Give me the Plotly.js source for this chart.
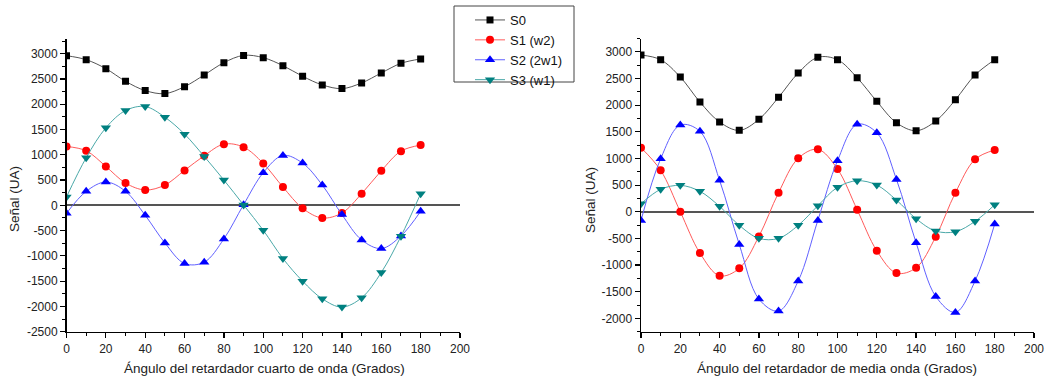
<!DOCTYPE html>
<html>
<head>
<meta charset="utf-8">
<script src="https://cdn.plot.ly/plotly-3.0.1.min.js"></script>
<style>html,body{margin:0;padding:0;background:#fff;}#chart{width:1045px;height:379px;}</style>
</head>
<body>
<div id="chart"></div>
<script>
// Angles (degrees)
const angles = [0,10,20,30,40,50,60,70,80,90,100,110,120,130,140,150,160,170,180];

// Quarter-wave retarder (left panel)
const qS0 = [2960,2881,2704,2453,2270,2210,2348,2579,2822,2966,2921,2763,2553,2382,2309,2421,2618,2809,2895];
const qS1 = [1164,1079,770,441,303,401,691,981,1210,1151,829,362,-59,-250,-151,230,684,1072,1191];
const qS2 = [-158,276,461,276,-197,-743,-1151,-1125,-664,13,645,987,835,401,-184,-684,-855,-605,-118];
const qS3 = [165,941,1533,1875,1954,1743,1408,967,500,7,-493,-1052,-1500,-1849,-2013,-1829,-1328,-612,230];

// Half-wave retarder (right panel)
const hS0 = [2940,2852,2527,2058,1683,1527,1733,2146,2602,2897,2852,2514,2071,1670,1520,1702,2101,2565,2852];
const hS1 = [1201,777,0,-775,-1201,-1062,-462,357,1002,1171,801,38,-731,-1150,-1051,-469,357,983,1158];
const hS2 = [-162,994,1627,1508,589,-612,-1638,-1863,-1300,-162,957,1640,1482,607,-581,-1588,-1888,-1300,-231];
const hS3 = [150,420,495,383,101,-255,-499,-499,-255,113,458,582,501,219,-131,-362,-375,-180,131];

const seriesNames = ['S0','S1 (w2)','S2 (2w1)','S3 (w1)'];

// Tick labels
const xTicks = [0,20,40,60,80,100,120,140,160,180,200];
const yTicksLeft = [-2500,-2000,-1500,-1000,-500,0,500,1000,1500,2000,2500,3000];
const yTicksRight = [-2000,-1500,-1000,-500,0,500,1000,1500,2000,2500,3000];

const xTitleLeft = 'Ángulo del retardador cuarto de onda (Grados)';
const xTitleRight = 'Ángulo del retardador de media onda (Grados)';
const yTitle = 'Señal (UA)';

const styles = [
  {marker:{symbol:'square', size:7, color:'#000000'}, line:{color:'#555555', width:1, shape:'spline'}},
  {marker:{symbol:'circle', size:8, color:'#ff0000'}, line:{color:'#ff5a5a', width:1, shape:'spline'}},
  {marker:{symbol:'triangle-up', size:9, color:'#0000ff'}, line:{color:'#6060ff', width:1, shape:'spline'}},
  {marker:{symbol:'triangle-down', size:9, color:'#008080'}, line:{color:'#4aa8a8', width:1, shape:'spline'}}
];

const leftData = [qS0,qS1,qS2,qS3];
const rightData = [hS0,hS1,hS2,hS3];
const traces = [];
leftData.forEach((ys,i)=>{
  traces.push({x:angles, y:ys, name:seriesNames[i], mode:'lines+markers', xaxis:'x', yaxis:'y',
    marker:styles[i].marker, line:styles[i].line, showlegend:true});
});
rightData.forEach((ys,i)=>{
  traces.push({x:angles, y:ys, name:seriesNames[i], mode:'lines+markers', xaxis:'x2', yaxis:'y2',
    marker:styles[i].marker, line:styles[i].line, showlegend:false});
});

const fontFam = 'Liberation Sans, Arial, sans-serif';
const tickLbl = v => String(v).replace('\u2212','-');

function xAxis(domain, anchor){
  return {domain:domain, anchor:anchor, range:[0,200], showgrid:false, zeroline:false,
    showline:true, linecolor:'#000', linewidth:1.5, ticks:'outside', ticklen:5, tickwidth:1.2, tickcolor:'#000',
    tickvals:xTicks, ticktext:xTicks.map(tickLbl),
    minor:{ticks:'outside', ticklen:3, tickwidth:1, tickcolor:'#000', dtick:10, tick0:0},
    tickfont:{family:fontFam, size:12, color:'#222'}, fixedrange:true};
}
function yAxis(domain, anchor, range, ticks){
  return {domain:domain, anchor:anchor, range:range, showgrid:false,
    zeroline:true, zerolinecolor:'#555', zerolinewidth:2,
    showline:true, linecolor:'#000', linewidth:1.5, ticks:'outside', ticklen:5, tickwidth:1.2, tickcolor:'#000',
    tickvals:ticks, ticktext:ticks.map(tickLbl),
    minor:{ticks:'outside', ticklen:3, tickwidth:1, tickcolor:'#000', dtick:250, tick0:0},
    tickfont:{family:fontFam, size:12, color:'#222'}, fixedrange:true};
}

const yDom = [(379-331.7)/379, (379-38.5)/379];
const layout = {
  width:1045, height:379,
  margin:{l:0,r:0,t:0,b:0},
  paper_bgcolor:'#fff', plot_bgcolor:'#fff',
  font:{family:fontFam, color:'#222'},
  xaxis: xAxis([66.5/1045, 460/1045], 'y'),
  yaxis: yAxis(yDom, 'x', [-2500,3300], yTicksLeft),
  xaxis2: xAxis([641/1045, 1034/1045], 'y2'),
  yaxis2: yAxis(yDom, 'x2', [-2250,3250], yTicksRight),
  showlegend:true,
  legend:{x:470/1045, y:1-5/379, xanchor:'left', yanchor:'top', borderwidth:0,
    bgcolor:'rgba(0,0,0,0)', font:{family:fontFam, size:13, color:'#111'}, tracegroupgap:0, itemwidth:30},
  shapes:[
    {type:'rect', xref:'paper', yref:'paper', x0:454/1045, x1:574/1045, y0:1-82/379, y1:1-6/379,
     line:{color:'#444', width:1}, fillcolor:'rgba(0,0,0,0)', layer:'below'}
  ],
  annotations:[
    {text:xTitleLeft, xref:'paper', yref:'paper', x:264/1045, y:(379-368)/379, xanchor:'center', yanchor:'middle', showarrow:false, font:{family:fontFam, size:13.5, color:'#222'}},
    {text:xTitleRight, xref:'paper', yref:'paper', x:837/1045, y:(379-368)/379, xanchor:'center', yanchor:'middle', showarrow:false, font:{family:fontFam, size:13.5, color:'#222'}},
    {text:yTitle, xref:'paper', yref:'paper', x:14/1045, y:(379-199)/379, xanchor:'center', yanchor:'middle', textangle:-90, showarrow:false, font:{family:fontFam, size:13.5, color:'#222'}},
    {text:yTitle, xref:'paper', yref:'paper', x:590/1045, y:(379-200)/379, xanchor:'center', yanchor:'middle', textangle:-90, showarrow:false, font:{family:fontFam, size:13.5, color:'#222'}}
  ]
};

Plotly.newPlot('chart', traces, layout, {staticPlot:true, displayModeBar:false});
</script>
</body>
</html>
